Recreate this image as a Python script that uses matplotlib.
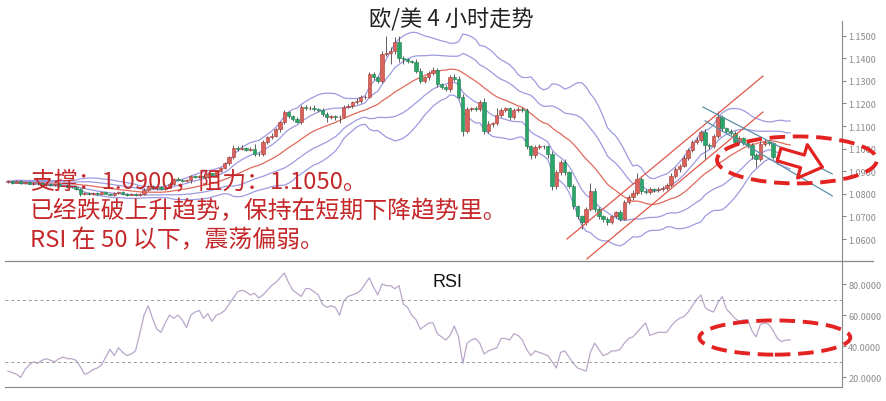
import numpy as np
import pandas as pd
import matplotlib
matplotlib.use('Agg')
import matplotlib.pyplot as plt
from matplotlib.patches import Ellipse, FancyArrowPatch
from matplotlib.lines import Line2D

plt.rcParams['font.family'] = ['Noto Sans CJK SC', 'DejaVu Sans']

# 4小时收盘价（点，1.0850 -> 10850）
close_pips = [
    10855, 10850, 10857, 10848, 10852, 10845, 10850, 10846, 10840, 10843,
    10838, 10842, 10836, 10838, 10832, 10830, 10822, 10800, 10805, 10800,
    10803, 10798, 10806, 10801, 10797, 10803, 10808, 10800, 10796, 10800,
    10795, 10798, 10818, 10835, 10825, 10830, 10822, 10828, 10845, 10865,
    10860, 10857, 10862, 10878, 10875, 10880, 10876, 10890, 10883, 10900,
    10915, 10935, 10962, 11005, 10998, 11002, 10996, 11000, 10978, 10975,
    11030, 11050, 11058, 11085, 11118, 11160, 11145, 11132, 11118, 11185,
    11178, 11182, 11175, 11172, 11155, 11140, 11143, 11138, 11142, 11185,
    11190, 11207, 11212, 11228, 11230, 11330, 11315, 11300, 11420, 11425,
    11430, 11470, 11400, 11395, 11388, 11385, 11345, 11300, 11315, 11335,
    11350, 11285, 11275, 11262, 11315, 11310, 11230, 11078, 11175, 11180,
    11176, 11205, 11080, 11110, 11112, 11150, 11172, 11178, 11140, 11172,
    11175, 11170, 11010, 10970, 11008, 11012, 11010, 10975, 10835, 10895,
    10940, 10895, 10835, 10746, 10702, 10676, 10733, 10813, 10733, 10702,
    10689, 10676, 10700, 10718, 10690, 10764, 10785, 10805, 10866, 10813,
    10808, 10820, 10818, 10822, 10828, 10840, 10880, 10910, 10925, 10960,
    10995, 11030, 11040, 11075, 11015, 11010, 11055, 11140, 11090, 11080,
    11070, 11030, 11045, 11025, 11015, 10970, 10955, 11020, 11030, 11025,
    10965, 10945, 10950, 10955, 10952,
]
first_open_pips = 10852
upper_wick = [
    4, 3, 5, 3, 4, 3, 4, 3, 5, 3,
    4, 3, 4, 3, 5, 4, 3, 4, 5, 3,
    4, 5, 3, 4, 3, 5, 4, 3, 4, 5,
    3, 4, 6, 5, 4, 5, 3, 4, 6, 5,
    8, 5, 4, 6, 5, 4, 6, 5, 4, 6,
    5, 8, 6, 10, 6, 12, 5, 6, 20, 8,
    8, 6, 10, 8, 6, 12, 8, 6, 10, 8,
    6, 8, 10, 6, 8, 6, 5, 8, 6, 6,
    8, 6, 10, 8, 6, 8, 10, 8, 12, 75,
    20, 25, 30, 10, 8, 6, 10, 12, 8, 10,
    12, 8, 6, 8, 10, 15, 12, 10, 8, 6,
    8, 10, 20, 12, 8, 30, 10, 8, 6, 8,
    8, 10, 12, 8, 10, 8, 6, 8, 15, 12,
    10, 12, 8, 8, 6, 6, 10, 35, 12, 8,
    6, 8, 8, 6, 10, 8, 10, 12, 25, 10,
    8, 10, 6, 8, 8, 6, 10, 8, 8, 10,
    8, 10, 12, 8, 10, 8, 10, 25, 10, 8,
    8, 6, 10, 8, 6, 8, 10, 12, 8, 6,
    6, 8, 5, 6, 4,
]
lower_wick = [
    4, 5, 3, 4, 5, 3, 4, 5, 3, 4,
    3, 5, 4, 3, 4, 5, 4, 8, 4, 5,
    3, 4, 5, 3, 4, 5, 3, 4, 5, 3,
    4, 5, 3, 4, 5, 6, 4, 5, 3, 4,
    5, 6, 4, 15, 5, 6, 4, 5, 6, 4,
    5, 6, 8, 6, 8, 6, 5, 8, 10, 8,
    6, 8, 6, 8, 10, 8, 10, 8, 6, 8,
    8, 6, 10, 8, 12, 20, 8, 10, 25, 8,
    6, 8, 10, 8, 10, 8, 10, 8, 10, 8,
    50, 12, 15, 20, 10, 8, 12, 10, 8, 10,
    8, 10, 12, 8, 10, 12, 10, 22, 8, 10,
    8, 10, 15, 10, 12, 8, 10, 8, 12, 10,
    8, 10, 12, 15, 10, 8, 12, 15, 20, 12,
    10, 12, 10, 12, 15, 30, 12, 10, 15, 12,
    12, 15, 10, 8, 10, 8, 10, 12, 10, 12,
    10, 8, 10, 12, 8, 10, 8, 10, 12, 8,
    10, 8, 10, 12, 60, 10, 8, 10, 12, 10,
    10, 12, 8, 10, 12, 15, 35, 10, 8, 10,
    12, 15, 8, 6, 5,
]
rsi = [
    24, 23, 22, 20, 25, 28, 30, 29, 31, 32,
    31, 30, 32, 33, 32, 32, 31, 27, 22, 23,
    25, 26, 28, 33, 38, 34, 39, 36, 34, 35,
    37, 48, 60, 66, 58, 51, 49, 55, 60, 58,
    60, 57, 52, 60, 62, 63, 58, 61, 56, 60,
    61, 63, 67, 71, 75, 76, 75, 73, 74, 71,
    73, 76, 79, 81, 84, 87, 81, 76, 74, 72,
    77, 77, 75, 73, 67, 65, 66, 65, 60, 69,
    72, 73, 74, 76, 80, 84, 78, 73, 80, 79,
    79, 77, 79, 67, 65, 60, 57, 51, 53, 55,
    55, 48, 46, 44, 47, 53, 46, 29, 42, 44,
    45, 42, 35, 37, 38, 39, 45, 45, 44, 48,
    47, 44, 38, 34, 37, 36, 35, 34, 30, 26,
    36, 37, 33, 29, 26, 25, 24, 36, 42, 38,
    34, 35, 37, 37, 38, 42, 45, 46, 49, 52,
    55, 47, 48, 49, 49, 49, 53, 56, 58, 59,
    62, 66, 70, 73, 65, 63, 62, 68, 72, 64,
    61, 58, 56, 57, 57, 50, 46, 54, 55, 54,
    50, 45, 43, 44, 44,
]

title = '欧/美 4 小时走势'
notes = ['支撑：1.0900，阻力：1.1050。',
         '已经跌破上升趋势，保持在短期下降趋势里。',
         'RSI 在 50 以下，震荡偏弱。']
price_ticks = [1.06, 1.07, 1.08, 1.09, 1.10, 1.11, 1.12, 1.13, 1.14, 1.15]
rsi_ticks = [20, 40, 60, 80]

# 手画趋势线 (K线序号, 价格)
up_channel = [[(131.5, 1.0600), (177.6, 1.1321)],
              [(136.2, 1.0512), (177.6, 1.1162)]]
down_channel = [[(163.5, 1.1184), (193.9, 1.0888)],
                [(164.0, 1.1123), (193.9, 1.0791)]]

# 数据整理
close = np.array(close_pips) / 10000
opn = np.r_[first_open_pips / 10000, close[:-1]]
high = np.maximum(opn, close) + np.array(upper_wick) / 10000
low = np.minimum(opn, close) - np.array(lower_wick) / 10000
idx = np.arange(len(close))

s = pd.Series(close)
mid = s.rolling(20, min_periods=1).mean()
sd = s.rolling(20, min_periods=1).std(ddof=0)

W, H = 886, 402
fig = plt.figure(figsize=(W / 100, H / 100), dpi=100)
ax = fig.add_axes([5 / W, 1 - 261.7 / H, 837 / W, (261.7 - 22) / H])
ax_rsi = fig.add_axes([5 / W, 1 - 388 / H, 837 / W, (388 - 261.7) / H])

band_c = '#9d9be0'
ax.plot(idx, mid, color='#e06a5c', lw=0.9, zorder=1)
for k in (1, 2):
    ax.plot(idx, mid + k * sd, color=band_c, lw=0.9, zorder=1)
    ax.plot(idx, mid - k * sd, color=band_c, lw=0.9, zorder=1)

# K线
up = close >= opn
ax.vlines(idx, low, high, color='#444444', lw=0.6, zorder=2)
body_bottom = np.minimum(opn, close)
body_h = np.maximum(np.abs(close - opn), 0.00012)
ax.bar(idx[up], body_h[up], bottom=body_bottom[up], width=0.78,
       color='#d9625b', edgecolor='#a83a35', lw=0.4, zorder=3)
ax.bar(idx[~up], body_h[~up], bottom=body_bottom[~up], width=0.78,
       color='#2ba66a', edgecolor='#1d7a4c', lw=0.4, zorder=3)

for (x0, y0), (x1, y1) in up_channel:
    ax.plot([x0, x1], [y0, y1], color='#e0574a', lw=0.9, zorder=4)
for (x0, y0), (x1, y1) in down_channel:
    ax.plot([x0, x1], [y0, y1], color='#5b8fa8', lw=0.9, zorder=4)

ax.set_xlim(-0.7, 196.2)
ax.set_ylim(1.0504, 1.1565)
ax_rsi.set_xlim(-0.7, 196.2)
ax_rsi.set_ylim(13.8, 95)

dash = (0, (4, 2))
ax.add_patch(Ellipse((185.6, 1.0950), 37.6, 0.0208, fill=False, ec='#e32222',
                     lw=2.8, ls=dash, clip_on=False, zorder=6))
ax.add_patch(FancyArrowPatch((181.4, 1.0974), (191.6, 1.0918),
                             arrowstyle='simple,head_width=2.5,head_length=1.5,tail_width=0.95',
                             mutation_scale=10, fc='white', ec='#e32222', lw=2.3,
                             shrinkA=0, shrinkB=0, clip_on=False, zorder=7))

# RSI
ax_rsi.plot(idx, rsi, color='#b9a6c9', lw=0.9)
for lv in (70, 30):
    ax_rsi.axhline(lv, color='#9a9a9a', lw=0.7, ls=(0, (3, 3)))
ax_rsi.add_patch(Ellipse((180.4, 45.6), 35.5, 22, fill=False, ec='#e32222',
                         lw=2.8, ls=dash, clip_on=False, zorder=6))

for a, ticks in ((ax, price_ticks), (ax_rsi, rsi_ticks)):
    a.yaxis.tick_right()
    a.set_yticks(ticks)
    a.set_yticklabels(['{:.4f}'.format(t) for t in ticks])
    a.tick_params(axis='y', length=3, color='#888888', labelsize=6.5,
                  labelcolor='#8a8a8a', pad=1.5)
    a.set_xticks([])
    a.spines['left'].set_visible(False)
    a.spines['top'].set_visible(False)
    a.spines['right'].set_color('#888888')
    a.spines['bottom'].set_color('#888888')
    a.patch.set_visible(False)
ax.spines['bottom'].set_visible(False)

fig.add_artist(Line2D([5 / W, 873 / W], [1 - 261.7 / H] * 2, color='#888888', lw=0.9))

fig.text(451 / W, 1 - 20 / H, title, fontsize=16, color='#222222', ha='center', va='center')
fig.text(448 / W, 1 - 283 / H, 'RSI', family=['Liberation Sans'], fontsize=13,
         color='#111111', ha='center', va='center')
for k, line in enumerate(notes):
    fig.text(30 / W, 1 - (182 + 29.5 * k) / H, line, fontsize=17.2, color='#c4282a',
             ha='left', va='center', zorder=10)

fig.savefig('out.png', dpi=100)
